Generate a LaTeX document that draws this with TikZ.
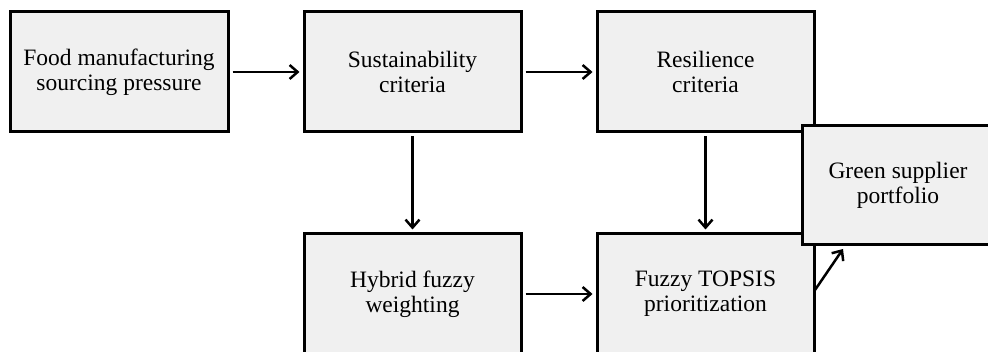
\documentclass[tikz,border=0pt]{standalone}
\usepackage{fontspec}
\setmainfont{Liberation Serif}
\usetikzlibrary{arrows.meta}
\definecolor{boxfill}{HTML}{F0F0F0}
\tikzset{
  flowbox/.style={draw=black, line width=3pt, fill=boxfill, minimum width=#1, minimum height=120pt,
    align=center, inner sep=0pt, font=\fontsize{23.5}{25}\selectfont},
  flowbox/.default=217pt,
  tipstyle/.style={-{Straight Barb[length=8pt,width=14pt,line width=2.5pt]}},
  flowarrow/.style={line width=2.5pt, tipstyle, shorten >=3pt, shorten <=3pt}
}
\begin{document}
\begin{tikzpicture}[x=1pt,y=-1pt]
\useasboundingbox (0,0) rectangle (988,352);
\begin{scope}
\clip (0,0) rectangle (988,352);
\node[flowbox=218pt] (food) at (119,72) {Food manufacturing\\sourcing pressure};
\node[flowbox] (sust) at (412.5,72) {Sustainability\\criteria};
\node[flowbox] (resil) at (705.5,72) {Resilience\\criteria};
\node[flowbox] (hybrid) at (412.5,294) {Hybrid fuzzy\\weighting};
\node[flowbox] (topsis) at (705.5,294) {Fuzzy TOPSIS\\prioritization};
\node[flowbox=192pt, minimum height=119pt] (green) at (898,185.5) {Green supplier\\portfolio};
\coordinate (gstart) at (815,290);
\coordinate (gend) at (843,249);
\draw[flowarrow] (food.east) -- (sust.west);
\draw[flowarrow] (sust.east) -- (resil.west);
\draw[flowarrow] (sust.south) -- (hybrid.north);
\draw[flowarrow] (resil.south) -- (topsis.north);
\draw[flowarrow] (hybrid.east) -- (topsis.west);
\draw[line width=2.5pt, tipstyle] (gstart) -- (gend);
\end{scope}
\end{tikzpicture}
\end{document}
